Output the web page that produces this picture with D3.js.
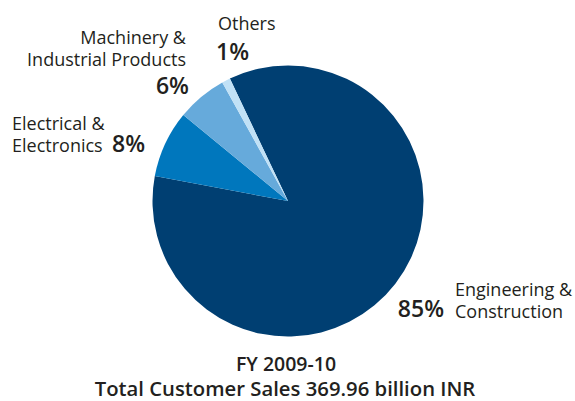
<!DOCTYPE html>
<html><head><meta charset="utf-8">
<script src="https://cdn.jsdelivr.net/npm/d3@7"></script>
<style>body{margin:0;background:#fff;} svg{display:block;} text{font-family:"Open Sans",sans-serif;fill:#231f20;}</style>
</head><body>
<svg id="c" width="575" height="401"></svg>
<script>
const categories = ["Engineering & Construction","Electrical & Electronics","Machinery & Industrial Products","Others"];
const values = [85, 8, 6, 1];
const colors = ["#003f72","#0077bd","#66aadb","#c0e1f6"];
const titleLines = ["FY 2009-10","Total Customer Sales 369.96 billion INR"];

const svg = d3.select("#c");
const cx = 288, cy = 201, r = 135.5;
const start = -25.4 * Math.PI / 180;
const pie = d3.pie().sort(null).startAngle(start).endAngle(start + 2*Math.PI);
const arc = d3.arc().innerRadius(0).outerRadius(r);
const g = svg.append("g").attr("transform", `translate(${cx},${cy})`);
g.selectAll("path").data(pie(values)).join("path")
  .attr("d", arc).attr("fill", (d,i) => colors[i]);

function label(lines, x, y, anchor, size, lh) {
  const t = svg.append("text").attr("x", x).attr("y", y).attr("text-anchor", anchor)
    .style("font-size", size + "px");
  lines.forEach((l,i) => t.append("tspan").attr("x", x).attr("dy", i ? lh : 0).text(l));
  return t;
}
function pct(v, x, y, anchor) {
  return svg.append("text").attr("x", x).attr("y", y).attr("text-anchor", anchor)
    .style("font-size","23px").style("font-weight",600).text(v + "%");
}
// Machinery
label(["Machinery &","Industrial Products"], 186, 44, "end", 18, 21.5);
pct(values[2], 189, 94, "end");
// Others
label(["Others"], 218, 30, "start", 18, 21);
pct(values[3], 216, 60, "start");
// Electrical
label(["Electrical &","Electronics"], 12, 130, "start", 18, 22);
pct(values[1], 112, 152, "start");
// Engineering
label(["Engineering &","Construction"], 455, 296, "start", 18, 21.5);
pct(values[0], 444, 317, "end");
// Title
svg.append("text").attr("x", 286).attr("y", 371).attr("text-anchor","middle")
  .style("font-size","19.5px").style("font-weight",600).text(titleLines[0]);
svg.append("text").attr("x", 285).attr("y", 396).attr("text-anchor","middle")
  .style("font-size","20.3px").style("font-weight",600).text(titleLines[1]);
</script>
</body></html>
